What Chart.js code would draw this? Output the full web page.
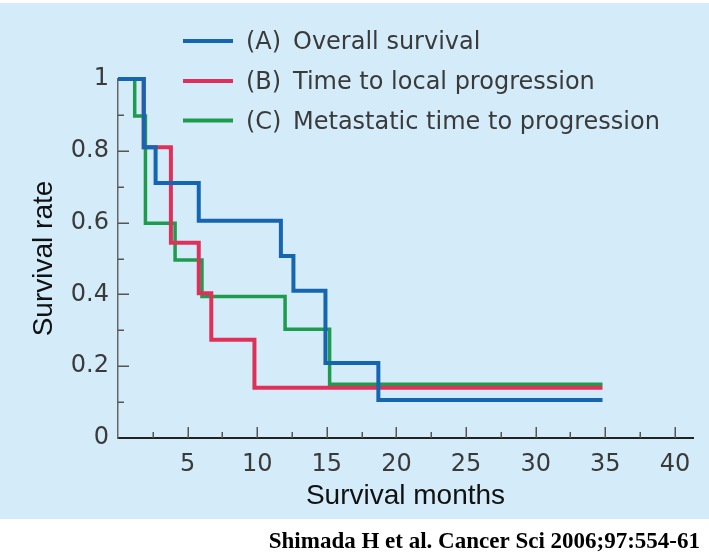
<!DOCTYPE html>
<html>
<head>
<meta charset="utf-8">
<script src="https://cdn.jsdelivr.net/npm/chart.js@4/dist/chart.umd.min.js"></script>
<style>
    html, body { margin: 0; padding: 0; background: #ffffff; }
    #wrap { position: relative; width: 709px; height: 558px; }
</style>
</head>
<body>
<div id="wrap"><canvas id="chart" width="709" height="558"></canvas></div>
<script>
// Kaplan-Meier curves (months, survival after each drop)
const seriesTags = ["(A)", "(B)", "(C)"];
const seriesNames = ["Overall survival", "Time to local progression", "Metastatic time to progression"];
const seriesColors = ["#1565b0", "#e0305a", "#1c9c4c"];

const overallMonths = [0, 1.85, 2.7, 5.8, 11.7, 12.6, 14.9, 18.7, 34.8];
const overallRate = [1, 0.81, 0.71, 0.605, 0.507, 0.41, 0.209, 0.106, 0.106];

const localMonths = [0, 1.85, 3.8, 5.8, 6.7, 9.8, 34.8];
const localRate = [1, 0.81, 0.544, 0.403, 0.274, 0.14, 0.14];

const metaMonths = [0, 1.2, 1.97, 4.1, 6.03, 12.0, 15.2, 34.8];
const metaRate = [1, 0.897, 0.598, 0.496, 0.394, 0.303, 0.15, 0.15];

const xTicks = [5, 10, 15, 20, 25, 30, 35, 40];
const yTicks = [0, 0.2, 0.4, 0.6, 0.8, 1];
const citation = "Shimada H et al. Cancer Sci 2006;97:554-61";

function toPoints(xs, ys) {
    return xs.map((x, i) => ({ x: x, y: ys[i] }));
}

const allMonths = [overallMonths, localMonths, metaMonths];
const allRates = [overallRate, localRate, metaRate];

const datasets = seriesNames.map((name, i) => ({
    label: name,
    data: toPoints(allMonths[i], allRates[i]),
    borderColor: seriesColors[i],
    borderWidth: i === 2 ? 3.5 : 4,
    stepped: "before",
    pointRadius: 0,
    fill: false,
    clip: false,
}));

// light blue panel, inward ticks, legend and citation
const decorations = {
    id: "decorations",
    beforeDraw(chart) {
        const ctx = chart.ctx;
        ctx.save();
        ctx.fillStyle = "#ffffff";
        ctx.fillRect(0, 0, chart.width, chart.height);
        ctx.fillStyle = "#d4ecf9";
        ctx.fillRect(0, 3, chart.width, 516);
        ctx.restore();
    },
    afterDraw(chart) {
        const ctx = chart.ctx;
        const xs = chart.scales.x;
        const ys = chart.scales.y;
        const area = chart.chartArea;
        ctx.save();
        ctx.strokeStyle = "#555555";
        ctx.lineWidth = 1.5;
        for (let v = 2.5; v <= 40; v += 2.5) {
            const px = Math.round(xs.getPixelForValue(v)) + 0.25;
            const len = v % 5 === 0 ? 11 : 6;
            ctx.beginPath();
            ctx.moveTo(px, area.bottom);
            ctx.lineTo(px, area.bottom - len);
            ctx.stroke();
        }
        for (let k = 1; k <= 9; k++) {
            const py = Math.round(ys.getPixelForValue(k / 10)) + 0.25;
            const len = k % 2 === 0 ? 11 : 6;
            ctx.beginPath();
            ctx.moveTo(area.left, py);
            ctx.lineTo(area.left + len, py);
            ctx.stroke();
        }

        // legend
        const rowY = [41, 81, 120.5];
        ctx.font = "24px 'DejaVu Sans'";
        ctx.textBaseline = "middle";
        ctx.textAlign = "left";
        seriesNames.forEach((name, i) => {
            ctx.strokeStyle = seriesColors[i];
            ctx.lineWidth = 4;
            ctx.beginPath();
            ctx.moveTo(183, rowY[i]);
            ctx.lineTo(233, rowY[i]);
            ctx.stroke();
            ctx.fillStyle = "#3a3a3a";
            ctx.fillText(seriesTags[i], 246, rowY[i] + 2);
            ctx.fillText(name, 293, rowY[i] + 2);
        });

        // citation
        ctx.font = "bold 23px 'Liberation Serif'";
        ctx.fillStyle = "#000000";
        ctx.textAlign = "right";
        ctx.fillText(citation, 700, 542);
        ctx.restore();
    },
};

const ctx = document.getElementById("chart").getContext("2d");
new Chart(ctx, {
    type: "line",
    data: { datasets: datasets },
    plugins: [decorations],
    options: {
        responsive: false,
        animation: false,
        events: [],
        layout: { padding: { top: 79, right: 16, left: 0, bottom: 0 } },
        plugins: {
            legend: { display: false },
            tooltip: { enabled: false },
        },
        scales: {
            x: {
                type: "linear",
                min: 0,
                max: 41.3,
                afterFit: (scale) => { scale.height = 120; },
                afterBuildTicks: (scale) => { scale.ticks = xTicks.map((v) => ({ value: v })); },
                grid: { display: false, drawTicks: false },
                border: { display: true, color: "#222222", width: 2 },
                ticks: {
                    padding: 12,
                    color: "#3a3a3a",
                    font: { family: "'DejaVu Sans'", size: 24 },
                    maxRotation: 0,
                    autoSkip: false,
                },
                title: {
                    display: true,
                    text: "Survival months",
                    color: "#111111",
                    font: { family: "'Liberation Sans'", size: 28 },
                    padding: { top: 0, bottom: 45 },
                },
            },
            y: {
                type: "linear",
                min: 0,
                max: 1,
                afterFit: (scale) => { scale.width = 118; },
                afterBuildTicks: (scale) => { scale.ticks = yTicks.map((v) => ({ value: v })); },
                grid: { display: false, drawTicks: false },
                border: { display: true, color: "#666666", width: 1.5 },
                ticks: {
                    padding: 9,
                    color: "#3a3a3a",
                    font: { family: "'DejaVu Sans'", size: 24 },
                    callback: (v) => String(v),
                },
                title: {
                    display: true,
                    text: "Survival rate",
                    color: "#111111",
                    font: { family: "'Liberation Sans'", size: 28 },
                    padding: { top: 27, bottom: 0 },
                },
            },
        },
    },
});
</script>
</body>
</html>
